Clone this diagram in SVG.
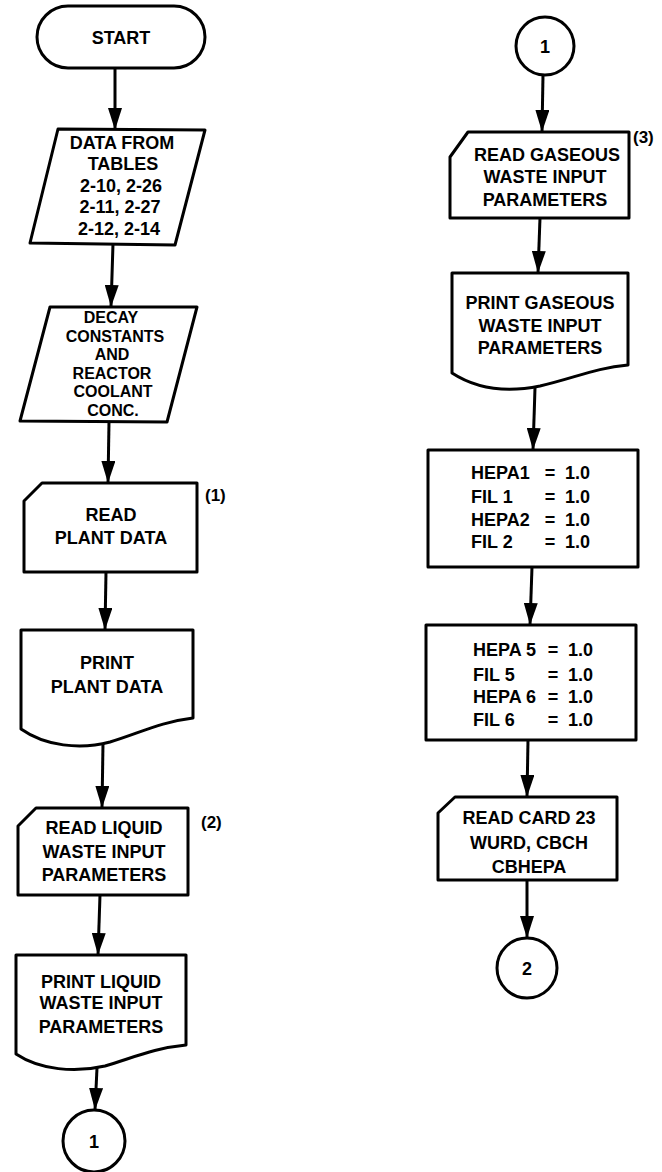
<svg xmlns="http://www.w3.org/2000/svg" width="662" height="1172" viewBox="0 0 662 1172">
<defs>
<style>
.s{fill:#fff;stroke:#000;stroke-width:3;stroke-linejoin:round}
.t{font-family:"Liberation Sans",Arial,sans-serif;font-weight:bold;font-size:18px;fill:#000;text-anchor:middle}
.d{font-size:16px}
.n{font-family:"Liberation Sans",Arial,sans-serif;font-weight:bold;font-size:17px;fill:#000}
.c{stroke:#000;stroke-width:3;fill:none}
</style>
<marker id="ah" viewBox="0 0 22 14" markerWidth="22" markerHeight="14" refX="22" refY="7" orient="auto" markerUnits="userSpaceOnUse">
<path d="M0,0 L22,7 L0,14 z" fill="#000"/>
</marker>
</defs>
<rect width="662" height="1172" fill="#fff"/>

<g id="connectors">
<line class="c" x1="115" y1="68" x2="115" y2="130" marker-end="url(#ah)"/>
<line class="c" x1="113" y1="244" x2="111" y2="307" marker-end="url(#ah)"/>
<line class="c" x1="109" y1="422" x2="108" y2="483" marker-end="url(#ah)"/>
<line class="c" x1="106" y1="572" x2="105" y2="630" marker-end="url(#ah)"/>
<line class="c" x1="103" y1="743" x2="102" y2="808" marker-end="url(#ah)"/>
<line class="c" x1="100" y1="895" x2="98" y2="955" marker-end="url(#ah)"/>
<line class="c" x1="97" y1="1068" x2="95" y2="1110" marker-end="url(#ah)"/>
<line class="c" x1="543" y1="75" x2="542" y2="132" marker-end="url(#ah)"/>
<line class="c" x1="540" y1="218" x2="538" y2="273" marker-end="url(#ah)"/>
<line class="c" x1="535" y1="388" x2="533" y2="450" marker-end="url(#ah)"/>
<line class="c" x1="532" y1="567" x2="530" y2="625" marker-end="url(#ah)"/>
<line class="c" x1="528" y1="740" x2="527" y2="797" marker-end="url(#ah)"/>
<line class="c" x1="527" y1="880" x2="527" y2="938" marker-end="url(#ah)"/>
</g>

<g id="start">
<rect class="s" x="37" y="6" width="168" height="62" rx="31"/>
<text class="t" x="121" y="44">START</text>
</g>

<g id="data-tables">
<path class="s" d="M58,129 L205,130 L175,245 L30,243 Z"/>
<text class="t" x="122" y="149">DATA FROM</text>
<text class="t" x="123" y="170">TABLES</text>
<text class="t" x="121" y="192">2-10, 2-26</text>
<text class="t" x="120" y="213">2-11, 2-27</text>
<text class="t" x="119" y="235">2-12, 2-14</text>
</g>

<g id="decay">
<path class="s" d="M50,307 L197,307 L167,422 L20,421 Z"/>
<text class="t d" x="111" y="323">DECAY</text>
<text class="t d" x="115" y="341.5">CONSTANTS</text>
<text class="t d" x="112" y="360">AND</text>
<text class="t d" x="112" y="378.5">REACTOR</text>
<text class="t d" x="113" y="397">COOLANT</text>
<text class="t d" x="113" y="415.5">CONC.</text>
</g>

<g id="read-plant">
<path class="s" d="M42,483 L197,483 L197,572 L24,572 L24,501 Z"/>
<text class="t" x="111" y="521">READ</text>
<text class="t" x="111" y="544">PLANT DATA</text>
<text class="n" x="205" y="501">(1)</text>
</g>

<g id="print-plant">
<path class="s" d="M21,630 L193,630 L193,718 C160,722 140,733 110,742 C80,750 45,746 21,729 Z"/>
<text class="t" x="107" y="669">PRINT</text>
<text class="t" x="107" y="693">PLANT DATA</text>
</g>

<g id="read-liquid">
<path class="s" d="M36,808 L188,808 L188,895 L18,895 L18,826 Z"/>
<text class="t" x="104" y="834">READ LIQUID</text>
<text class="t" x="104" y="858">WASTE INPUT</text>
<text class="t" x="104" y="881">PARAMETERS</text>
<text class="n" x="201" y="828">(2)</text>
</g>

<g id="print-liquid">
<path class="s" d="M16,955 L186,955 L186,1045 C155,1048 135,1057 105,1066 C75,1073 40,1070 16,1054 Z"/>
<text class="t" x="101" y="988">PRINT LIQUID</text>
<text class="t" x="101" y="1009">WASTE INPUT</text>
<text class="t" x="101" y="1033">PARAMETERS</text>
</g>

<g id="conn1-out">
<circle class="s" cx="94" cy="1141" r="31"/>
<text class="t" x="94" y="1148">1</text>
</g>

<g id="conn1-in">
<circle class="s" cx="545" cy="46" r="29"/>
<text class="t" x="545" y="53">1</text>
</g>

<g id="read-gaseous">
<path class="s" d="M468,132 L629,132 L629,218 L450,218 L450,157 Z"/>
<text class="t" x="547" y="161">READ GASEOUS</text>
<text class="t" x="545" y="183">WASTE INPUT</text>
<text class="t" x="545" y="206">PARAMETERS</text>
<text class="n" x="633" y="143">(3)</text>
</g>

<g id="print-gaseous">
<path class="s" d="M452,273 L628,273 L628,365 C595,368 575,378 540,386 C505,393 475,388 452,373 Z"/>
<text class="t" x="540" y="309">PRINT GASEOUS</text>
<text class="t" x="540" y="332">WASTE INPUT</text>
<text class="t" x="540" y="354">PARAMETERS</text>
</g>

<g id="hepa12">
<rect class="s" x="428" y="450" width="210" height="117"/>
<text class="t" x="471" y="479" style="text-anchor:start">HEPA1</text>
<text class="t" x="550" y="479">=</text>
<text class="t" x="565" y="479" style="text-anchor:start">1.0</text>
<text class="t" x="471" y="503" style="text-anchor:start">FIL 1</text>
<text class="t" x="550" y="503">=</text>
<text class="t" x="565" y="503" style="text-anchor:start">1.0</text>
<text class="t" x="471" y="526" style="text-anchor:start">HEPA2</text>
<text class="t" x="550" y="526">=</text>
<text class="t" x="565" y="526" style="text-anchor:start">1.0</text>
<text class="t" x="471" y="548" style="text-anchor:start">FIL 2</text>
<text class="t" x="550" y="548">=</text>
<text class="t" x="565" y="548" style="text-anchor:start">1.0</text>
</g>

<g id="hepa56">
<rect class="s" x="426" y="625" width="210" height="115"/>
<text class="t" x="473" y="656" style="text-anchor:start">HEPA 5</text>
<text class="t" x="553" y="656">=</text>
<text class="t" x="568" y="656" style="text-anchor:start">1.0</text>
<text class="t" x="473" y="681" style="text-anchor:start">FIL 5</text>
<text class="t" x="553" y="681">=</text>
<text class="t" x="568" y="681" style="text-anchor:start">1.0</text>
<text class="t" x="473" y="703" style="text-anchor:start">HEPA 6</text>
<text class="t" x="553" y="703">=</text>
<text class="t" x="568" y="703" style="text-anchor:start">1.0</text>
<text class="t" x="473" y="726" style="text-anchor:start">FIL 6</text>
<text class="t" x="553" y="726">=</text>
<text class="t" x="568" y="726" style="text-anchor:start">1.0</text>
</g>

<g id="read-card">
<path class="s" d="M455,797 L617,797 L617,880 L438,880 L438,813 Z"/>
<text class="t" x="529" y="824">READ CARD 23</text>
<text class="t" x="529" y="849">WURD, CBCH</text>
<text class="t" x="529" y="873">CBHEPA</text>
</g>

<g id="conn2">
<circle class="s" cx="527" cy="968" r="30"/>
<text class="t" x="527" y="975">2</text>
</g>
</svg>
